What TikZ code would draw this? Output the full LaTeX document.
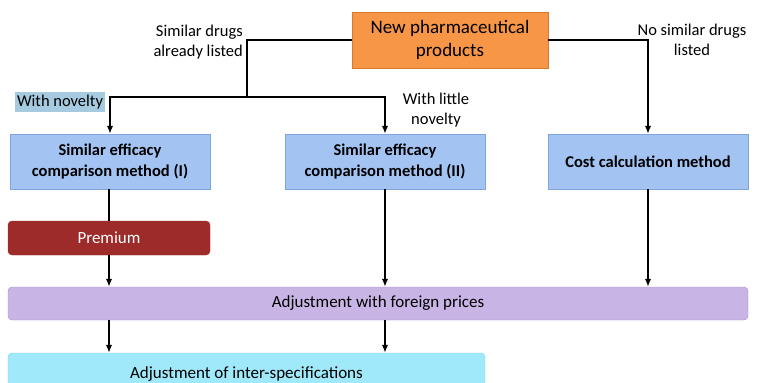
\documentclass[tikz,border=0pt]{standalone}
\usepackage{fontspec}
\setmainfont{Carlito}
\usetikzlibrary{arrows.meta,positioning}
\definecolor{prodorange}{HTML}{F79646}
\definecolor{prodedge}{HTML}{D9782F}
\definecolor{methodblue}{HTML}{A3C4F3}
\definecolor{methodedge}{HTML}{7FA6DC}
\definecolor{premred}{HTML}{9C2B2A}
\definecolor{adjpurple}{HTML}{C9B4E6}
\definecolor{adjpurpleedge}{HTML}{A68CCB}
\definecolor{adjcyan}{HTML}{9FE9FA}
\definecolor{adjcyanedge}{HTML}{7CD2EA}
\definecolor{novhl}{HTML}{A6CBE0}

\begin{document}
\begin{tikzpicture}[x=1pt,y=-1pt,>={Latex[length=8pt,width=6.5pt]},
  flow/.style={line width=2.8pt},
  lbl/.style={font=\fontsize{16.5}{20}\selectfont,align=center,inner sep=1pt},
  method/.style={draw=methodedge,fill=methodblue,minimum width=200pt,minimum height=55pt,
    align=center,font=\fontsize{16.5}{21}\selectfont\bfseries},
  wide/.style={rounded corners=4pt,minimum height=34pt,font=\fontsize{17}{20}\selectfont}]
\useasboundingbox (0,0) rectangle (761,383);
\clip (0,0) rectangle (761,383);
% boxes
\node[draw=prodedge,fill=prodorange,minimum width=196pt,minimum height=56pt,align=center,
  font=\fontsize{19}{23}\selectfont] (prod) at (450,40) {New pharmaceutical\\products};
\node[method] (sim1) at (110,161.5) {Similar efficacy\\comparison method (I)};
\node[method] (sim2) at (385,161.5) {Similar efficacy\\comparison method (II)};
\node[method] (cost) at (648,161.5) {Cost calculation method};
\node[wide,draw=premred,fill=premred,text=white,minimum width=202pt] (prem) at (109,238) {Premium};
\node[wide,draw=adjpurpleedge,fill=adjpurple,minimum width=740pt,minimum height=33pt] (adjf) at (378,303.5) {Adjustment with foreign prices};
\node[wide,draw=adjcyanedge,fill=adjcyan,minimum width=477pt,minimum height=42pt] (adjs) at (246.5,374) {Adjustment of inter-specifications};
% labels
\node[lbl,align=right,anchor=east] (simlbl) at (244,42) {Similar drugs\\already listed};
\node[lbl,fill=novhl,inner xsep=2pt,inner ysep=3pt] (novlbl) at (60,102) {With novelty};
\node[lbl] (littlelbl) at (436,110) {With little\\novelty};
\node[lbl] (nosimlbl) at (692,40) {No similar drugs\\listed};
% connectors
\coordinate (split) at (247,97);
\draw[flow] (prod.west) -| (split);
\draw[flow,->] (split) -| (sim1.north);
\draw[flow,->] (split) -| (sim2.north);
\draw[flow,->] (prod.east) -| (cost.north);
\draw[flow] (sim1.south -| prem) -- (prem.north);
\draw[flow,->] (prem.south) -- (prem.south |- adjf.north);
\draw[flow,->] (sim2.south) -- (sim2.south |- adjf.north);
\draw[flow,->] (cost.south) -- (cost.south |- adjf.north);
\draw[flow,->] (adjf.south -| prem) -- (prem |- adjs.north);
\draw[flow,->] (adjf.south -| sim2) -- (sim2 |- adjs.north);
\end{tikzpicture}
\end{document}
